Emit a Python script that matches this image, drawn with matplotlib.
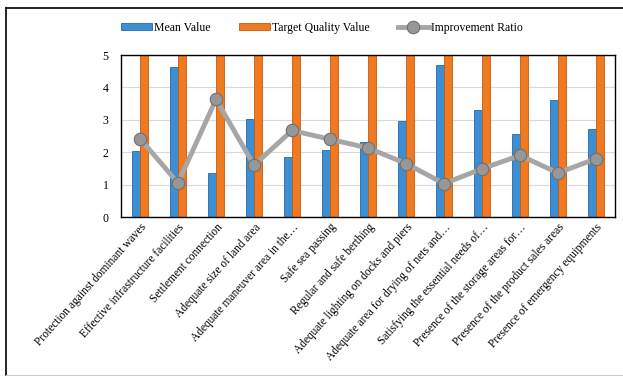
import matplotlib.pyplot as plt
import numpy as np
from matplotlib.lines import Line2D

categories = [
    "Protection against dominant waves",
    "Effective infrastructure facilities",
    "Settlement connection",
    "Adequate size of land area",
    "Adequate maneuver area in the\u2026",
    "Safe sea passing",
    "Regular and safe berthing",
    "Adequate lighting on docks and piers",
    "Adequate area for drying of nets and\u2026",
    "Satisfying the essential needs of\u2026",
    "Presence of the storage areas for\u2026",
    "Presence of the product sales areas",
    "Presence of emergency equipments",
]
mean_value = [2.03, 4.63, 1.35, 3.02, 1.85, 2.06, 2.30, 2.97, 4.70, 3.31, 2.55, 3.62, 2.71]
target_value = [5, 5, 5, 5, 5, 5, 5, 5, 5, 5, 5, 5, 5]
improvement_ratio = [2.42, 1.05, 3.63, 1.60, 2.67, 2.40, 2.13, 1.65, 1.03, 1.49, 1.90, 1.36, 1.80]
y_ticks = [0, 1, 2, 3, 4, 5]

plt.rcParams['font.family'] = ['Liberation Serif', 'DejaVu Serif']

fig = plt.figure(figsize=(6.23, 3.76), dpi=100)
ax = fig.add_axes([121 / 623, 1 - 217 / 376, 494 / 623, 162 / 376])

x = np.arange(len(categories))
w = 0.21
b1 = ax.bar(x - w / 2, mean_value, width=w, color="#3d8fd1", edgecolor="#2568a8",
            linewidth=0.6, label="Mean Value", zorder=2)
b2 = ax.bar(x + w / 2, target_value, width=w, color="#f07a22", edgecolor="#c45a10",
            linewidth=0.6, label="Target Quality Value", zorder=2)
ln, = ax.plot(x, improvement_ratio, color="#a6a6a6", linewidth=3.5, marker="o",
              markersize=9, markerfacecolor="#979797", markeredgecolor="#707070",
              markeredgewidth=0.8, label="Improvement Ratio", zorder=3)

ax.set_xlim(-0.5, len(categories) - 0.5)
ax.set_ylim(0, 5)
ax.set_yticks(y_ticks)
ax.tick_params(axis="y", length=0, labelsize=8.5, pad=9)
ax.tick_params(axis="x", length=0, pad=3)
ax.set_xticks(x)
ax.set_xticklabels(categories, rotation=48, ha="right", rotation_mode="anchor", fontsize=8.3)
ax.grid(axis="y", color="#d9d9d9", linewidth=0.8, zorder=0)
ax.set_axisbelow(True)
for s in ax.spines.values():
    s.set_color("black")
    s.set_linewidth(1.0)

fig.legend([b1, b2, ln], ["Mean Value", "Target Quality Value", "Improvement Ratio"],
           loc="center", bbox_to_anchor=(322 / 623, 1 - 28 / 376), ncol=3, frameon=False,
           fontsize=8.5, handlelength=2.6, handleheight=0.5, columnspacing=2.4,
           handletextpad=0.2)

# outer frame of the picture
fig.add_artist(Line2D([6 / 623, 1], [1 - 8 / 376, 1 - 8 / 376], color="black", linewidth=1.2))
fig.add_artist(Line2D([6 / 623, 6 / 623], [0.003, 1 - 8 / 376], color="black", linewidth=1.2))
fig.add_artist(Line2D([6 / 623, 1], [0.003, 0.003], color="#cccccc", linewidth=0.8))

fig.savefig("out.png", dpi=100)
